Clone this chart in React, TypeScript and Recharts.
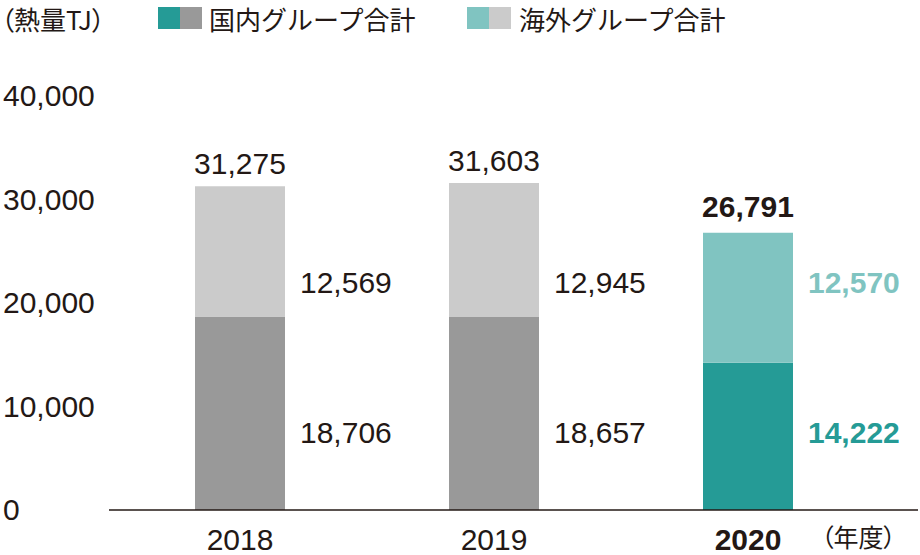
import { BarChart, Bar, XAxis, YAxis, Cell, LabelList } from 'recharts';

const years = ['2018', '2019', '2020'];
const domestic = [18706, 18657, 14222];
const overseas = [12569, 12945, 12570];
const totals = [31275, 31603, 26791];
const yTicks = [0, 10000, 20000, 30000, 40000];

const domesticColors = ['#999999', '#999999', '#259b96'];
const overseasColors = ['#cbcbcb', '#cbcbcb', '#80c4c1'];
const ink = '#231815';
const numFont = '"Liberation Sans", Arial, sans-serif';
const jpFont = '"Noto Sans CJK JP", sans-serif';

const data = years.map((year, i) => ({
  year,
  domestic: domestic[i],
  overseas: overseas[i],
  total: totals[i],
}));

const fmt = (v: number) => v.toLocaleString('en-US');
const isLast = (i: number) => i === years.length - 1;

const YTick = ({ y, payload }: any) => (
  <text x={3} y={y} dy={10} textAnchor="start" fontSize={30} fill={ink} fontFamily={numFont}>
    {fmt(payload.value)}
  </text>
);

const XTick = ({ x, y, payload, index }: any) => (
  <text
    x={x}
    y={y + 40}
    textAnchor="middle"
    fontSize={30}
    fill={ink}
    fontWeight={isLast(index) ? 'bold' : 'normal'}
    fontFamily={numFont}
  >
    {payload.value}
  </text>
);

// segment labels sit at fixed heights beside each bar
const sideLabel = (labelY: number, colors: string[]) => (props: any) => {
  const { x, width, value, index } = props;
  const last = isLast(index);
  return (
    <text
      x={x + width + 15}
      y={labelY}
      textAnchor="start"
      fontSize={30}
      fill={last ? colors[index] : ink}
      fontWeight={last ? 'bold' : 'normal'}
      fontFamily={numFont}
    >
      {fmt(value)}
    </text>
  );
};

const totalLabel = (props: any) => {
  const { x, y, width, value, index } = props;
  const last = isLast(index);
  return (
    <text
      x={x + width / 2}
      y={y - (last ? 16 : 12)}
      textAnchor="middle"
      fontSize={30}
      fill={ink}
      fontWeight={last ? 'bold' : 'normal'}
      fontFamily={numFont}
    >
      {fmt(value)}
    </text>
  );
};

const Swatch = ({ color, left }: { color: string; left: number }) => (
  <div style={{ position: 'absolute', left, top: 7, width: 22, height: 22, background: color }} />
);

const jpText = {
  position: 'absolute' as const,
  fontFamily: jpFont,
  fontSize: 26,
  lineHeight: '30px',
  color: ink,
  whiteSpace: 'nowrap' as const,
};

const palt = { fontFeatureSettings: '"palt"' };

export default function App() {
  return (
    <div style={{ position: 'absolute', left: 0, top: 0, width: 920, height: 555, background: '#fff' }}>
      <BarChart width={920} height={555} data={data} margin={{ top: 96, right: 2, left: 0, bottom: 0 }}>
        <XAxis
          dataKey="year"
          height={45}
          padding={{ left: 4, right: 43 }}
          axisLine={{ stroke: ink, strokeWidth: 1.5 }}
          tickLine={false}
          tickSize={0}
          tickMargin={0}
          tick={<XTick />}
        />
        <YAxis
          width={109}
          domain={[0, 40000]}
          ticks={yTicks}
          axisLine={false}
          tickLine={false}
          tick={<YTick />}
        />
        <Bar dataKey="domestic" stackId="a" barSize={90} isAnimationActive={false}>
          {data.map((d, i) => (
            <Cell key={d.year} fill={domesticColors[i]} />
          ))}
          <LabelList dataKey="domestic" content={sideLabel(443, domesticColors)} />
        </Bar>
        <Bar dataKey="overseas" stackId="a" barSize={90} isAnimationActive={false}>
          {data.map((d, i) => (
            <Cell key={d.year} fill={overseasColors[i]} />
          ))}
          <LabelList dataKey="overseas" content={sideLabel(293, overseasColors)} />
          <LabelList dataKey="total" content={totalLabel} />
        </Bar>
      </BarChart>
      <div style={{ ...jpText, ...palt, left: 1, top: 4 }}>（熱量TJ）</div>
      <Swatch color={domesticColors[2]} left={158} />
      <Swatch color={domesticColors[0]} left={180} />
      <div style={{ ...jpText, left: 209, top: 4 }}>国内グループ合計</div>
      <Swatch color={overseasColors[2]} left={467} />
      <Swatch color={overseasColors[0]} left={489} />
      <div style={{ ...jpText, left: 519, top: 4 }}>海外グループ合計</div>
      <div style={{ ...jpText, ...palt, left: 821, top: 521, fontSize: 25 }}>（年度）</div>
    </div>
  );
}
